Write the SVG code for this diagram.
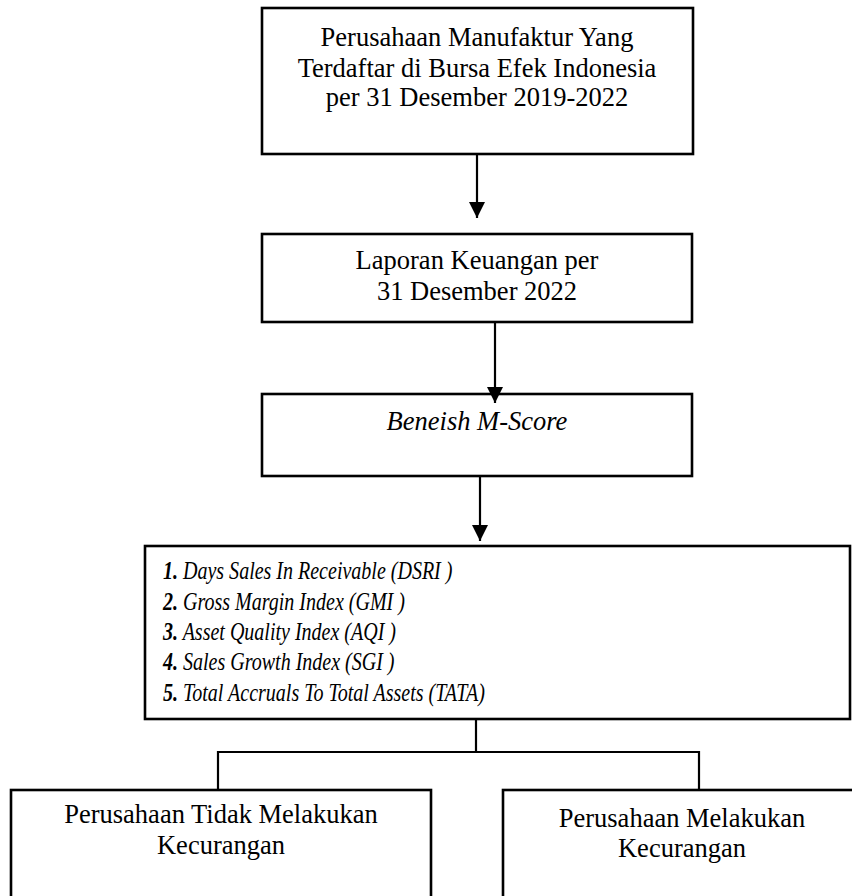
<svg xmlns="http://www.w3.org/2000/svg" width="852" height="896" viewBox="0 0 852 896">
<style>
.box{fill:#fff;stroke:#000;stroke-width:2.6}
.ln{fill:none;stroke:#000;stroke-width:2.2}
.t{font-family:"Liberation Serif","Times New Roman",serif;font-size:26.5px;fill:#000;text-anchor:middle}
.i{font-family:"Liberation Serif","Times New Roman",serif;font-size:26px;fill:#000;font-style:italic}
.b{font-weight:bold}
</style>
<defs>
<marker id="ah" viewBox="0 0 10 10" refX="10" refY="5" markerWidth="16" markerHeight="16" markerUnits="userSpaceOnUse" orient="auto">
<path d="M0,0 L10,5 L0,10 z" fill="#000"/>
</marker>
</defs>
<rect width="852" height="896" fill="#fff"/>
<g id="n1">
<rect class="box" x="262" y="8" width="431" height="146"/>
<text class="t" x="477" y="46">Perusahaan Manufaktur Yang</text>
<text class="t" x="477" y="77">Terdaftar di Bursa Efek Indonesia</text>
<text class="t" x="477" y="106">per 31 Desember 2019-2022</text>
</g>
<g id="n2">
<rect class="box" x="262" y="234" width="430" height="88"/>
<text class="t" x="477" y="269">Laporan Keuangan per</text>
<text class="t" x="477" y="300">31 Desember 2022</text>
</g>
<g id="n3">
<rect class="box" x="262" y="394" width="430" height="82"/>
<text class="t" x="477" y="430" font-style="italic">Beneish M-Score</text>
</g>
<g id="n4">
<rect class="box" x="145" y="546" width="705" height="173"/>
<g transform="translate(163,0) scale(0.77,1)">
<text class="i" x="0" y="579"><tspan class="b">1.</tspan> Days Sales In Receivable (DSRI )</text>
<text class="i" x="0" y="610"><tspan class="b">2.</tspan> Gross Margin Index (GMI )</text>
<text class="i" x="0" y="640"><tspan class="b">3.</tspan> Asset Quality Index (AQI )</text>
<text class="i" x="0" y="670"><tspan class="b">4.</tspan> Sales Growth Index (SGI )</text>
<text class="i" x="0" y="701"><tspan class="b">5.</tspan> Total Accruals To Total Assets (TATA)</text>
</g>
</g>
<g id="n5">
<rect class="box" x="11" y="790" width="420" height="130"/>
<text class="t" x="221" y="823">Perusahaan Tidak Melakukan</text>
<text class="t" x="221" y="854">Kecurangan</text>
</g>
<g id="n6">
<rect class="box" x="503" y="790" width="360" height="130"/>
<text class="t" x="682" y="827">Perusahaan Melakukan</text>
<text class="t" x="682" y="857">Kecurangan</text>
</g>
<g id="connectors">
<line class="ln" x1="477" y1="155" x2="477" y2="218" marker-end="url(#ah)"/>
<line class="ln" x1="495" y1="323" x2="495" y2="403" marker-end="url(#ah)"/>
<line class="ln" x1="480" y1="477" x2="480" y2="541" marker-end="url(#ah)"/>
<polyline class="ln" points="476,720 476,752"/>
<polyline class="ln" points="218,789 218,752 699,752 699,789"/>
</g>
</svg>
